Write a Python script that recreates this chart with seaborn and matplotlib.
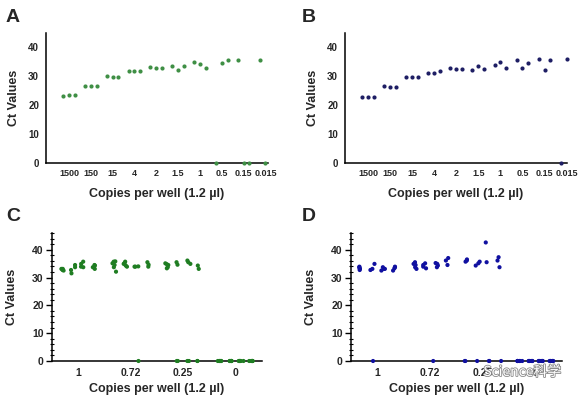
import numpy as np
import pandas as pd
import seaborn as sns
import matplotlib.pyplot as plt
import matplotlib.patheffects as pe
from matplotlib.ticker import MultipleLocator, FixedLocator

# Panels A and B: dilution series, three replicates (0 = not detected)
copies_ab = ['1500', '150', '15', '4', '2', '1.5', '1', '0.5', '0.15', '0.015']
a_rep1 = [23.2, 26.7, 30.0, 32.0, 33.2, 33.7, 34.9, 0.0, 35.6, 35.6]
a_rep2 = [23.5, 26.8, 29.9, 31.9, 32.8, 32.2, 34.1, 34.7, 0.0, 0.0]
a_rep3 = [23.5, 26.8, 29.7, 31.9, 32.8, 33.7, 33.0, 35.6, 0.0, np.nan]
b_rep1 = [22.7, 26.7, 29.7, 31.3, 32.8, 32.2, 33.9, 35.6, 35.9, 0.0]
b_rep2 = [22.7, 26.4, 29.6, 31.3, 32.5, 33.7, 35.1, 33.0, 32.2, 35.9]
b_rep3 = [22.7, 26.4, 29.6, 31.9, 32.5, 32.6, 33.0, 34.6, 35.6, np.nan]

# Panels C and D: four runs per copy number
copies_cd = ['1', '0.72', '0.25', '0']
c_1 = [[33.1, 32.5, 33.1, 32.7], [34.5, 33.7, 32.7, 31.5],
       [34.9, 35.7, 33.9, 33.7], [33.1, 33.7, 34.3, 34.5]]
c_072 = [[35.1, 35.8, 35.7, 34.5, 33.7, 32.1], [35.7, 34.9, 34.3, 33.9, 35.2],
         [33.9, 33.9, 34.0, 0.0], [35.5, 34.6, 33.9]]
c_025 = [[33.3, 35.1, 34.5, 33.7, 34.8], [35.5, 34.6, 0.0, 0.0],
         [36.1, 35.5, 34.9, 0.0, 0.0], [34.3, 33.1, 0.0, 0.0]]
c_0 = [[0.0] * 6, [0.0] * 6, [0.0] * 6, [0.0] * 6]
d_1 = [[33.7, 33.1, 32.7, 33.9, 33.3], [33.1, 32.7, 34.9, 0.0],
       [33.7, 33.1, 32.5, 33.1], [33.9, 33.3, 32.5, 33.7]]
d_072 = [[34.5, 33.7, 33.1, 35.5, 34.9], [35.1, 34.5, 33.9, 33.3],
         [33.7, 34.3, 34.9, 35.2, 0.0], [36.1, 37.0, 34.5]]
d_025 = [[36.5, 36.1, 35.7, 0.0, 0.0], [35.7, 35.1, 34.3, 0.0],
         [42.6, 35.5, 0.0, 0.0], [37.3, 36.1, 33.7, 0.0]]
d_0 = [[0.0] * 6, [0.0] * 6, [0.0] * 6, [0.0] * 6]

runs = ['run1', 'run2', 'run3', 'run4']
reps = ['rep1', 'rep2', 'rep3']


def ab_frame(rep_lists):
    rows = []
    for rep, vals in zip(reps, rep_lists):
        for c, v in zip(copies_ab, vals):
            rows.append({'copies': c, 'run': rep, 'ct': v})
    return pd.DataFrame(rows).dropna()


def cd_frame(groups):
    rows = []
    for c, group in zip(copies_cd, groups):
        for run, vals in zip(runs, group):
            for v in vals:
                rows.append({'copies': c, 'run': run, 'ct': v})
    return pd.DataFrame(rows)


df_a = ab_frame([a_rep1, a_rep2, a_rep3])
df_b = ab_frame([b_rep1, b_rep2, b_rep3])
df_c = cd_frame([c_1, c_072, c_025, c_0])
df_d = cd_frame([d_1, d_072, d_025, d_0])

sns.set_theme(style='white')
plt.rcParams['font.family'] = ['Liberation Sans', 'DejaVu Sans']
plt.rcParams['font.weight'] = 'bold'
plt.rcParams['axes.labelweight'] = 'bold'
np.random.seed(3)

fig = plt.figure(figsize=(5.81, 3.97), dpi=100)
ax_a = fig.add_axes([0.0792, 0.5894, 0.3821, 0.3275])
ax_b = fig.add_axes([0.5938, 0.5894, 0.3821, 0.3275])
ax_c = fig.add_axes([0.0895, 0.0907, 0.3614, 0.3224])
ax_d = fig.add_axes([0.6041, 0.0907, 0.3632, 0.3224])


def style_common(ax, xpad, ypad):
    sns.despine(ax=ax)
    for s in ['left', 'bottom']:
        ax.spines[s].set_color('black')
        ax.spines[s].set_linewidth(1.1)
    ax.set_xlabel('Copies per well (1.2 µl)', fontsize=9, labelpad=xpad)
    ax.set_ylabel('Ct Values', fontsize=9, labelpad=ypad)


# A and B
for ax, df, color, right in [(ax_a, df_a, '#3f8f45', 9.12), (ax_b, df_b, '#1e1e64', 9.02)]:
    sns.stripplot(data=df, x='copies', y='ct', hue='run', order=copies_ab,
                  hue_order=reps, palette=[color] * 3, dodge=True, jitter=False,
                  size=3, legend=False, ax=ax, clip_on=False, zorder=3)
    ax.set_xlim(-1.05, right)
    ax.set_ylim(0, 45)
    ax.set_yticks([0, 10, 20, 30, 40])
    ax.tick_params(axis='both', length=0)
    ax.tick_params(axis='x', labelsize=6.5, pad=4)
    ax.tick_params(axis='y', labelsize=7, pad=5)
    style_common(ax, 7.5, 6)

# C and D
for ax, df, color in [(ax_c, df_c, '#1f7d22'), (ax_d, df_d, '#1010a0')]:
    sns.stripplot(data=df, x='copies', y='ct', hue='run', order=copies_cd,
                  hue_order=runs, palette=[color] * 4, dodge=True, jitter=0.2,
                  size=3, legend=False, ax=ax, clip_on=False, zorder=3)
    ax.set_xlim(-0.5, 3.5)
    ax.set_ylim(0, 46)
    ax.set_yticks([0, 10, 20, 30, 40])
    ax.yaxis.set_minor_locator(MultipleLocator(2))
    ax.xaxis.set_minor_locator(FixedLocator([-0.5, 0.5, 1.5, 2.5, 3.5]))
    ax.tick_params(axis='x', which='major', length=0, labelsize=7.5, pad=5)
    ax.tick_params(axis='x', which='minor', length=4, width=1, direction='out', color='black')
    ax.tick_params(axis='y', which='major', length=4, width=1, direction='out',
                   color='black', labelsize=7.5, pad=2, left=True)
    ax.tick_params(axis='y', which='minor', length=3, width=0.8, direction='inout',
                   color='black', left=True)
    style_common(ax, 4, 10)

for x, y, s in [(0.010, 0.978, 'A'), (0.519, 0.978, 'B'), (0.010, 0.477, 'C'), (0.519, 0.477, 'D')]:
    fig.text(x, y, s, fontsize=14, fontweight='bold', va='top', ha='left')

# watermark overlay
fig.text(0.899, 0.063, 'Science科学', fontsize=10, color='white', ha='center', va='center',
         family=['Noto Sans CJK SC', 'DejaVu Sans'], fontweight='normal',
         path_effects=[pe.withStroke(linewidth=1.2, foreground='#8a8a8a')])

fig.savefig('out.png', dpi=100)
